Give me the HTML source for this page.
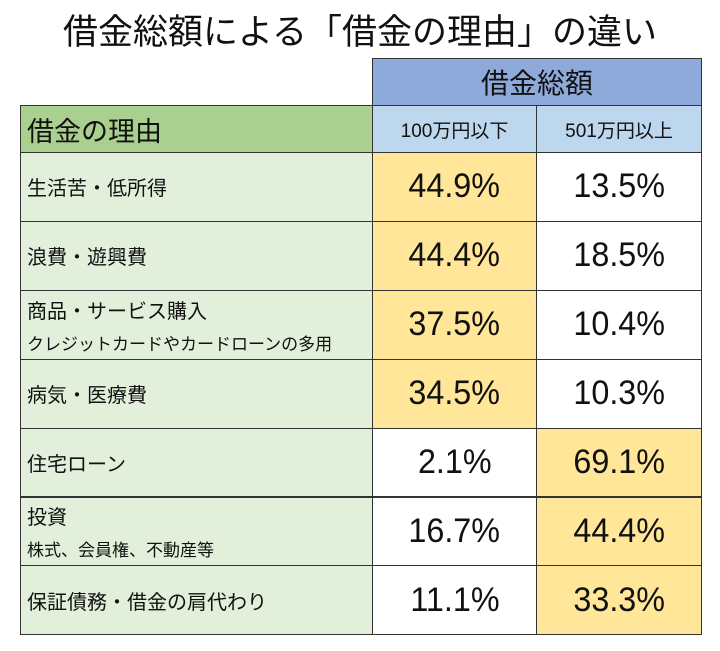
<!DOCTYPE html>
<html><head><meta charset="utf-8"><style>
body{margin:0;width:720px;height:651px;background:#fff;position:relative;overflow:hidden;font-family:"Liberation Sans","Noto Sans CJK JP",sans-serif;color:#111}
.c{position:absolute;box-sizing:border-box;border:1px solid #333;display:flex;align-items:center}
.lab{background:#e2efda;padding-left:6px;font-size:20px;flex-direction:column;align-items:flex-start;justify-content:center}
.num{justify-content:center;font-size:34px}
.num span{display:inline-block;transform:scaleX(.95)}
.y{background:#ffe699}.w{background:#fff}
.sub{font-size:17px;margin-top:6px}
</style></head><body>
<div style="position:absolute;left:0;top:4px;width:720px;text-align:center;font-size:35px">借金総額による「借金の理由」の違い</div>
<div class="c" style="left:372px;top:58px;width:330px;height:48px;background:#8eaadb;justify-content:center;font-size:28px">借金総額</div>
<div class="c" style="left:20px;top:105px;width:353px;height:48px;background:#a9d08e;padding-left:6px;font-size:27px">借金の理由</div>
<div class="c" style="left:372px;top:105px;width:165px;height:48px;background:#bdd7ee;justify-content:center;font-size:19px">100万円以下</div>
<div class="c" style="left:536px;top:105px;width:166px;height:48px;background:#bdd7ee;justify-content:center;font-size:19px">501万円以上</div>
<div id="rows"></div>
<script>
const reasons=["生活苦・低所得","浪費・遊興費","商品・サービス購入","病気・医療費","住宅ローン","投資","保証債務・借金の肩代わり"];
const subs=["","","クレジットカードやカードローンの多用","","","株式、会員権、不動産等",""];
const low=[44.9,44.4,37.5,34.5,2.1,16.7,11.1];
const high=[13.5,18.5,10.4,10.3,69.1,44.4,33.3];
const root=document.getElementById('rows');
const top0=152,rh=68.9;
reasons.forEach((r,i)=>{
  const y=top0+i*rh;
  const a=document.createElement('div');
  a.className='c lab';
  
  
  a.style.cssText=`left:20px;top:${y}px;width:353px;height:${rh+1}px`;
  a.innerHTML=`<div>${r}</div>`+(subs[i]?`<div class="sub">${subs[i]}</div>`:'');
  root.appendChild(a);
  [[low[i],372,165],[high[i],536,166]].forEach(([v,x,w],j)=>{
    const other=j==0?high[i]:low[i];
    const d=document.createElement('div');
    d.className='c num '+(v>other?'y':'w');
    
    
    d.style.cssText=`left:${x}px;top:${y}px;width:${w}px;height:${rh+1}px`;
    d.innerHTML=`<span>${v.toFixed(1)}%</span>`;
    root.appendChild(d);
  });
});
</script>
</body></html>
